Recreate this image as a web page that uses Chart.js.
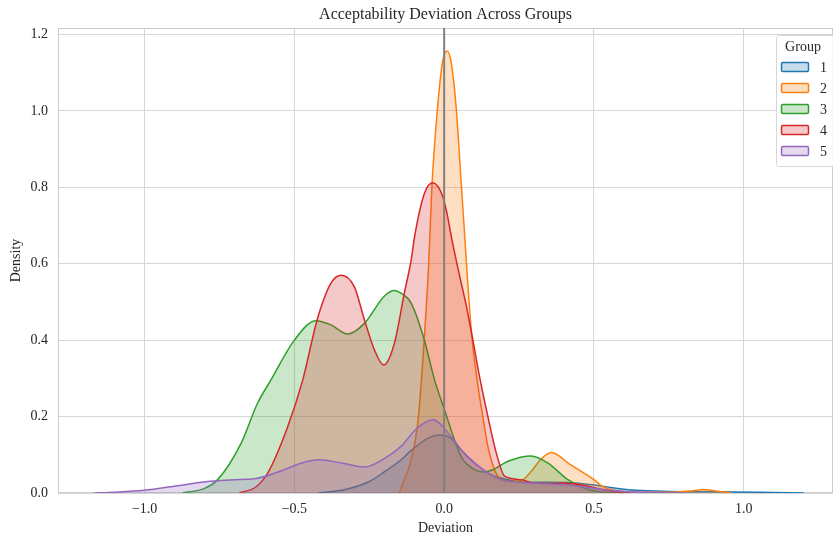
<!DOCTYPE html>
<html>
<head>
<meta charset="utf-8">
<script src="https://cdn.jsdelivr.net/npm/chart.js@4.4.1/dist/chart.umd.min.js"></script>
<style>
  html, body { margin: 0; padding: 0; background: #fff; }
  #wrap { width: 833px; height: 538px; }
</style>
</head>
<body>
<div id="wrap"><canvas id="kde"></canvas></div>
<script>
const groupLabels = ['1', '2', '3', '4', '5'];
const groupColors = ['#1f77b4', '#ff7f0e', '#2ca02c', '#d62728', '#9467bd'];
const xTicks = [-1.0, -0.5, 0.0, 0.5, 1.0];
const yTicks = [0.0, 0.2, 0.4, 0.6, 0.8, 1.0, 1.2];

// KDE curves
const g1X = [-0.42, -0.33, -0.25, -0.2, -0.15, -0.1, -0.05, -0.02, 0.02, 0.06, 0.1, 0.15, 0.2, 0.28, 0.35, 0.42, 0.5, 0.56, 0.64, 0.75, 0.9, 1.05, 1.2];
const g1Y = [0, 0.009, 0.03, 0.055, 0.083, 0.118, 0.145, 0.152, 0.145, 0.11, 0.08, 0.05, 0.037, 0.028, 0.028, 0.027, 0.021, 0.014, 0.007, 0.004, 0.003, 0.002, 0];

const g2X = [-0.15, -0.133, -0.11, -0.088, -0.071, -0.051, -0.041, -0.023, -0.005, 0.01, 0.025, 0.041, 0.057, 0.068, 0.077, 0.088, 0.096, 0.113, 0.129, 0.146, 0.168, 0.184, 0.22, 0.257, 0.29, 0.325, 0.358, 0.42, 0.5, 0.525, 0.58, 0.65, 0.75, 0.83, 0.865, 0.9, 0.96];
const g2Y = [0, 0.035, 0.087, 0.183, 0.349, 0.61, 0.8, 1.0, 1.13, 1.157, 1.12, 1.0, 0.81, 0.68, 0.57, 0.45, 0.383, 0.279, 0.2, 0.122, 0.061, 0.04, 0.03, 0.032, 0.056, 0.09, 0.106, 0.075, 0.035, 0.019, 0.005, 0.002, 0.002, 0.006, 0.009, 0.006, 0];

const g3X = [-0.873, -0.8, -0.756, -0.678, -0.623, -0.578, -0.5, -0.428, -0.378, -0.322, -0.266, -0.2, -0.166, -0.144, -0.11, -0.066, -0.032, 0.001, 0.057, 0.1, 0.13, 0.16, 0.213, 0.29, 0.347, 0.413, 0.48, 0.54, 0.6];
const g3Y = [0, 0.012, 0.035, 0.13, 0.235, 0.296, 0.4, 0.451, 0.44, 0.416, 0.444, 0.515, 0.53, 0.523, 0.497, 0.4, 0.296, 0.218, 0.095, 0.062, 0.055, 0.06, 0.083, 0.097, 0.078, 0.035, 0.009, 0.002, 0];

const g4X = [-0.684, -0.63, -0.589, -0.522, -0.472, -0.424, -0.378, -0.344, -0.3, -0.266, -0.233, -0.202, -0.166, -0.133, -0.11, -0.099, -0.066, -0.038, -0.004, 0.01, 0.023, 0.051, 0.074, 0.096, 0.118, 0.146, 0.174, 0.202, 0.257, 0.3, 0.35, 0.4, 0.45, 0.5, 0.55, 0.62];
const g4Y = [0, 0.015, 0.052, 0.174, 0.296, 0.453, 0.549, 0.57, 0.54, 0.453, 0.375, 0.335, 0.392, 0.523, 0.61, 0.67, 0.784, 0.812, 0.775, 0.73, 0.675, 0.57, 0.49, 0.4, 0.305, 0.2, 0.105, 0.044, 0.035, 0.026, 0.025, 0.026, 0.022, 0.014, 0.006, 0];

const g5X = [-1.169, -1.1, -1.002, -0.89, -0.79, -0.7, -0.634, -0.534, -0.47, -0.417, -0.34, -0.266, -0.2, -0.144, -0.09, -0.038, 0.023, 0.06, 0.101, 0.19, 0.3, 0.4, 0.5, 0.6, 0.7, 0.8];
const g5Y = [0, 0.002, 0.007, 0.019, 0.03, 0.035, 0.037, 0.061, 0.08, 0.087, 0.078, 0.068, 0.09, 0.122, 0.17, 0.192, 0.148, 0.11, 0.078, 0.035, 0.026, 0.022, 0.012, 0.004, 0.001, 0];

const xMin = -1.289, xMax = 1.298;
const yMin = 0, yMax = 1.217;

const groupX = [g1X, g2X, g3X, g4X, g5X];
const groupY = [g1Y, g2Y, g3Y, g4Y, g5Y];

const hexToRgba = (hex, a) => {
  const n = parseInt(hex.slice(1), 16);
  return `rgba(${(n >> 16) & 255}, ${(n >> 8) & 255}, ${n & 255}, ${a})`;
};

const datasets = groupLabels.map((label, i) => ({
  label: label,
  data: groupX[i].map((x, j) => ({ x: x, y: groupY[i][j] })),
  borderColor: groupColors[i],
  backgroundColor: hexToRgba(groupColors[i], 0.25),
  borderWidth: 1.5,
  fill: 'origin',
  pointRadius: 0,
  cubicInterpolationMode: 'monotone',
  order: 5 - i
}));

// reference line at zero deviation
datasets.push({
  label: 'zero',
  data: [{ x: 0, y: yMin }, { x: 0, y: yMax }],
  borderColor: '#808080',
  borderWidth: 2,
  pointRadius: 0,
  fill: false,
  order: -1
});

const serif = "'Liberation Serif', 'Times New Roman', serif";
const textColor = '#262626';

const framePlugin = {
  id: 'frame',
  beforeDatasetsDraw(chart) {
    const { ctx, chartArea: a } = chart;
    ctx.save();
    ctx.strokeStyle = '#cccccc';
    ctx.lineWidth = 1;
    ctx.strokeRect(a.left + 0.5, a.top + 0.5, a.right - a.left - 1, a.bottom - a.top - 1);
    ctx.restore();
  },
  afterDraw(chart) {
    const { ctx, chartArea: a } = chart;
    ctx.save();
    // title centred over the axes
    ctx.fillStyle = textColor;
    ctx.font = `16px ${serif}`;
    ctx.textAlign = 'center';
    ctx.textBaseline = 'middle';
    ctx.fillText('Acceptability Deviation Across Groups', (a.left + a.right) / 2, 15);

    // legend box, upper right inside the axes
    const bx = 776, by = 35, bw = 70, bh = 131;
    ctx.fillStyle = 'rgba(255,255,255,0.85)';
    ctx.strokeStyle = '#d6d6d6';
    ctx.lineWidth = 1;
    ctx.beginPath();
    ctx.roundRect(bx + 0.5, by + 0.5, bw, bh, 3);
    ctx.fill();
    ctx.stroke();

    ctx.fillStyle = textColor;
    ctx.font = `14px ${serif}`;
    ctx.fillText('Group', 803, 47);

    chart.data.datasets.slice(0, groupLabels.length).forEach((ds, i) => {
      const cy = 67 + i * 21;
      ctx.fillStyle = ds.backgroundColor;
      ctx.strokeStyle = ds.borderColor;
      ctx.lineWidth = 1.5;
      ctx.beginPath();
      ctx.roundRect(781.5, cy - 4.5, 27, 9, 1.5);
      ctx.fill();
      ctx.stroke();
      ctx.fillStyle = textColor;
      ctx.textAlign = 'left';
      ctx.fillText(ds.label, 820, cy + 1);
      ctx.textAlign = 'center';
    });
    ctx.restore();
  }
};

new Chart(document.getElementById('kde'), {
  type: 'line',
  data: { datasets: datasets },
  options: {
    responsive: true,
    maintainAspectRatio: false,
    animation: false,
    layout: { padding: { top: 28, right: 0, left: 0, bottom: 0 } },
    plugins: {
      legend: { display: false },
      title: { display: false },
      tooltip: { enabled: false }
    },
    scales: {
      x: {
        type: 'linear',
        min: xMin,
        max: xMax,
        afterFit: (s) => { s.height = 45; },
        afterBuildTicks: (s) => { s.ticks = xTicks.map(v => ({ value: v })); },
        grid: { color: '#d6d6d6', lineWidth: 1, drawTicks: false },
        border: { display: false },
        ticks: {
          padding: 8,
          color: textColor,
          font: { family: serif, size: 14 },
          callback: (v) => (v < 0 ? '\u2212' + Math.abs(v).toFixed(1) : v.toFixed(1))
        },
        title: {
          display: true,
          text: 'Deviation',
          color: textColor,
          font: { family: serif, size: 14 },
          padding: { top: 0, bottom: 1 }
        }
      },
      y: {
        min: yMin,
        max: yMax,
        afterFit: (s) => { s.width = 58; },
        afterBuildTicks: (s) => { s.ticks = yTicks.map(v => ({ value: v })); },
        grid: { color: '#d6d6d6', lineWidth: 1, drawTicks: false },
        border: { display: false },
        ticks: {
          padding: 10,
          color: textColor,
          font: { family: serif, size: 14 },
          callback: (v) => v.toFixed(1)
        },
        title: {
          display: true,
          text: 'Density',
          color: textColor,
          font: { family: serif, size: 14 },
          padding: { top: 8, bottom: 0 }
        }
      }
    }
  },
  plugins: [framePlugin]
});
</script>
</body>
</html>
